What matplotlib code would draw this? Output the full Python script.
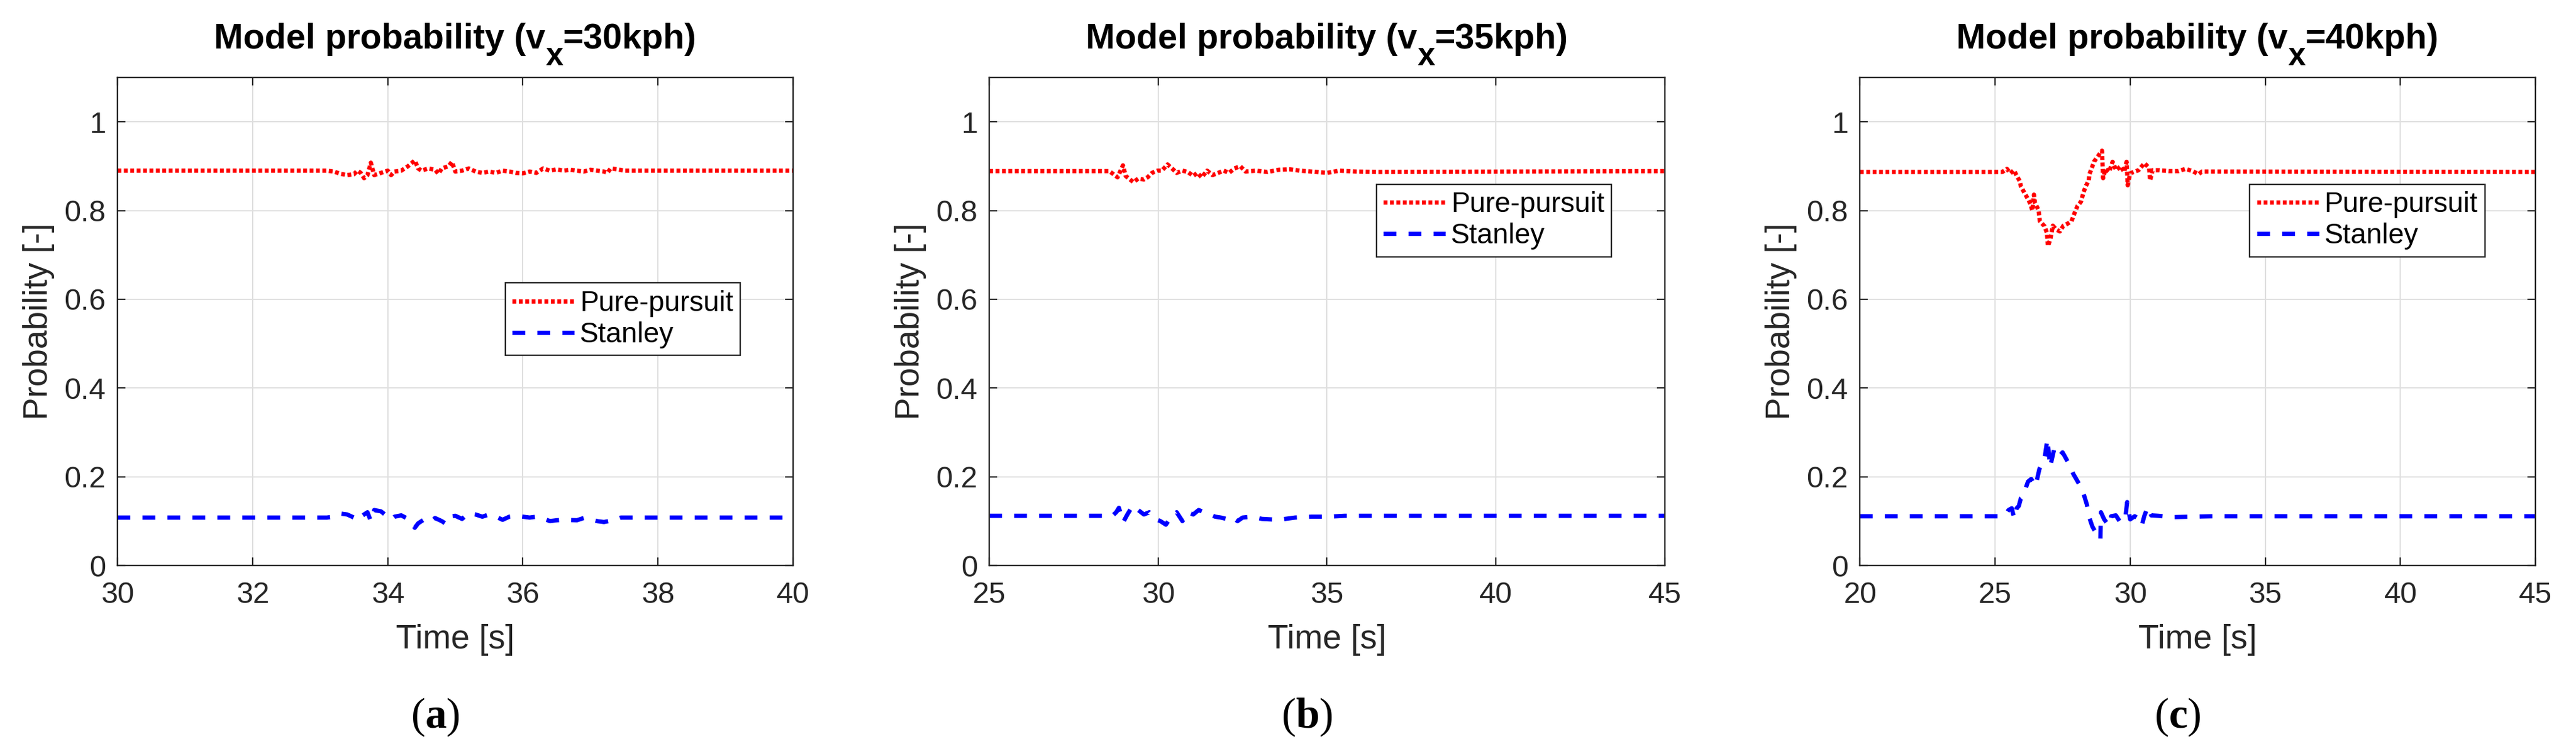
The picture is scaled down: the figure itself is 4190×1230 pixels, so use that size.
import matplotlib
matplotlib.use("Agg")
import matplotlib.pyplot as plt
from matplotlib.ticker import FormatStrFormatter
from matplotlib.transforms import IdentityTransform

plt.rcParams['font.family'] = ['Liberation Sans', 'DejaVu Sans']
plt.rcParams['mathtext.fontset'] = 'custom'
plt.rcParams['mathtext.bf'] = 'Liberation Serif:bold'
plt.rcParams['mathtext.rm'] = 'Liberation Serif'

# ---- data ----
speeds = ["30", "35", "40"]
captions = ["a", "b", "c"]
xlims = [(30, 40), (25, 45), (20, 45)]
xtick_steps = [2, 5, 5]

# (a) 30 kph
t_pp_a = [30, 33.1, 33.2, 33.3, 33.4, 33.5, 33.55, 33.6, 33.65, 33.7, 33.75, 33.8, 33.9, 34.0, 34.05,
          34.1, 34.2, 34.3, 34.4, 34.45, 34.5, 34.6, 34.7, 34.75, 34.8, 34.9, 34.95, 35.0, 35.1, 35.2,
          35.3, 35.4, 35.5, 35.6, 35.7, 35.8, 35.9, 36.0, 36.1, 36.2, 36.3, 36.4, 36.5, 36.6, 36.7,
          36.8, 36.9, 37.0, 37.1, 37.2, 37.25, 37.3, 37.4, 37.5, 40]
pp_a = [0.89, 0.89, 0.888, 0.883, 0.88, 0.882, 0.89, 0.885, 0.873, 0.88, 0.908, 0.88, 0.885, 0.89, 0.88,
        0.888, 0.89, 0.9, 0.913, 0.895, 0.89, 0.895, 0.892, 0.883, 0.895, 0.9, 0.91, 0.888, 0.89, 0.895,
        0.888, 0.885, 0.888, 0.885, 0.89, 0.888, 0.885, 0.884, 0.888, 0.885, 0.895, 0.89, 0.893, 0.89, 0.892,
        0.89, 0.888, 0.892, 0.89, 0.888, 0.885, 0.895, 0.893, 0.89, 0.89]
t_st_a = [30, 33.1, 33.2, 33.3, 33.4, 33.5, 33.55, 33.6, 33.7, 33.75, 33.8, 33.9, 34.0, 34.05, 34.1, 34.2,
          34.3, 34.4, 34.45, 34.55, 34.65, 34.7, 34.8, 34.85, 34.9, 35.0, 35.1, 35.2, 35.3, 35.4, 35.5,
          35.6, 35.7, 35.8, 35.9, 36.0, 36.1, 36.2, 36.3, 36.4, 36.5, 36.6, 36.8, 36.9, 37.0, 37.1,
          37.2, 37.3, 37.4, 37.45, 40]
st_a = [0.108, 0.108, 0.11, 0.117, 0.115, 0.108, 0.102, 0.11, 0.12, 0.1, 0.125, 0.122, 0.11, 0.104, 0.11, 0.113,
        0.105, 0.085, 0.095, 0.105, 0.1, 0.107, 0.1, 0.095, 0.11, 0.112, 0.105, 0.118, 0.115, 0.11, 0.115,
        0.11, 0.103, 0.11, 0.112, 0.11, 0.108, 0.11, 0.106, 0.1, 0.102, 0.103, 0.102, 0.107, 0.104, 0.1,
        0.098, 0.101, 0.105, 0.108, 0.108]

# (b) 35 kph
t_pp_b = [25, 28.55, 28.68, 28.8, 28.96, 29.04, 29.17, 29.27, 29.41, 29.58, 29.69, 29.82, 29.98, 30.11,
          30.28, 30.44, 30.55, 30.72, 30.88, 31.04, 31.16, 31.29, 31.45, 31.61, 31.78, 31.94, 32.1, 32.26,
          32.43, 32.59, 32.9, 33.24, 33.57, 33.9, 34.2, 34.7, 35.0, 35.36, 35.85, 36.5, 45]
pp_b = [0.889, 0.889, 0.882, 0.875, 0.902, 0.878, 0.87, 0.864, 0.872, 0.87, 0.875, 0.885, 0.89, 0.89,
        0.904, 0.893, 0.885, 0.89, 0.887, 0.878, 0.885, 0.875, 0.89, 0.88, 0.885, 0.89, 0.885, 0.895,
        0.9, 0.888, 0.89, 0.887, 0.892, 0.893, 0.89, 0.887, 0.885, 0.89, 0.888, 0.887, 0.889]
t_st_b = [25, 28.65, 28.76, 28.84, 28.97, 29.09, 29.25, 29.41, 29.58, 29.74, 29.9, 30.07, 30.23, 30.39,
          30.55, 30.72, 30.88, 31.04, 31.2, 31.37, 31.53, 31.69, 31.86, 32.02, 32.18, 32.35, 32.5, 32.75,
          33.08, 33.57, 34.05, 34.54, 35.03, 35.52, 45]
st_b = [0.112, 0.112, 0.12, 0.13, 0.098, 0.115, 0.135, 0.125, 0.115, 0.12, 0.105, 0.1, 0.092, 0.11,
        0.12, 0.1, 0.12, 0.115, 0.125, 0.12, 0.115, 0.11, 0.108, 0.105, 0.11, 0.1, 0.108, 0.11,
        0.105, 0.103, 0.108, 0.11, 0.11, 0.112, 0.112]

# (c) 40 kph
t_pp_c = [20, 25.27, 25.44, 25.57, 25.7, 25.79, 25.92, 25.96, 26.09, 26.22, 26.31, 26.38, 26.44, 26.48,
          26.61, 26.66, 26.83, 26.92, 26.96, 27.05, 27.14, 27.27, 27.4, 27.53, 27.7, 27.83, 27.96, 28.05,
          28.18, 28.27, 28.35, 28.47, 28.49, 28.57, 28.66, 28.79, 28.96, 29.0, 29.09, 29.22, 29.35, 29.48,
          29.65, 29.78, 29.87, 29.91, 30.0, 30.13, 30.31, 30.53, 30.7, 30.74, 30.83, 31.09, 31.44, 31.79,
          32.05, 32.31, 32.53, 32.66, 45]
pp_c = [0.887, 0.887, 0.894, 0.884, 0.891, 0.88, 0.866, 0.854, 0.84, 0.826, 0.815, 0.8, 0.836, 0.817,
        0.801, 0.776, 0.765, 0.75, 0.72, 0.736, 0.766, 0.757, 0.753, 0.766, 0.771, 0.776, 0.797, 0.81,
        0.82, 0.84, 0.854, 0.868, 0.882, 0.894, 0.91, 0.921, 0.935, 0.873, 0.894, 0.887, 0.91, 0.891,
        0.9, 0.887, 0.91, 0.857, 0.884, 0.887, 0.891, 0.907, 0.896, 0.868, 0.891, 0.891, 0.889, 0.889,
        0.894, 0.889, 0.882, 0.888, 0.887]
t_st_c = [20, 25.1, 25.37, 25.5, 25.62, 25.71, 25.8, 25.88, 25.96, 26.05, 26.14, 26.22, 26.34, 26.5,
          26.64, 26.84, 26.94, 27.04, 27.18, 27.34, 27.5, 27.7, 27.9, 28.1, 28.2, 28.3, 28.4, 28.5, 28.6,
          28.73, 28.9, 28.92, 29.04, 29.21, 29.3, 29.47, 29.64, 29.82, 29.89, 30.0, 30.17, 30.3, 30.43,
          30.52, 30.65, 30.78, 31.04, 31.56, 32.25, 33.0, 45]
st_c = [0.111, 0.111, 0.113, 0.125, 0.129, 0.106, 0.129, 0.134, 0.152, 0.157, 0.175, 0.189, 0.195, 0.179,
        0.217, 0.244, 0.285, 0.222, 0.26, 0.244, 0.255, 0.233, 0.206, 0.185, 0.175, 0.157, 0.137, 0.106, 0.088,
        0.074, 0.058, 0.12, 0.104, 0.09, 0.111, 0.113, 0.097, 0.106, 0.143, 0.104, 0.111, 0.106, 0.09,
        0.111, 0.132, 0.113, 0.112, 0.109, 0.11, 0.111, 0.111]

pp_series = [(t_pp_a, pp_a), (t_pp_b, pp_b), (t_pp_c, pp_c)]
st_series = [(t_st_a, st_a), (t_st_b, st_b), (t_st_c, st_c)]

# ---- layout ----
dark = '#262626'
W, H = 4190, 1230
lefts = [0.0456, 0.3840, 0.7220]
ax_w = 0.2623
legend_anchor = [(0.922, 0.579), (0.921, 0.781), (0.925, 0.781)]

fig = plt.figure(figsize=(W / 100, H / 100), dpi=100)
renderer = fig.canvas.get_renderer()


def draw_title(cx, y, speed):
    # MATLAB style title, subscript x sits fully below the baseline
    pieces = [("Model probability (v", 41, 0), ("x", 37, -27), ("=" + speed + "kph)", 41, 0)]
    objs, widths = [], []
    for s, fs, dy in pieces:
        tx = fig.text(0, 0, s, fontsize=fs, fontweight='bold', color='black',
                      transform=IdentityTransform(), ha='left', va='baseline')
        widths.append(tx.get_window_extent(renderer).width)
        objs.append(tx)
    x = cx - sum(widths) / 2
    for tx, w, p in zip(objs, widths, pieces):
        tx.set_position((x, y + p[2]))
        x += w


for i in range(3):
    ax = fig.add_axes([lefts[i], 0.252, ax_w, 0.6455])
    t, v = pp_series[i]
    ax.plot(t, v, color='red', lw=5.0, linestyle=(0, (0.9, 0.6)), dash_capstyle='butt',
            label='Pure-pursuit')
    t, v = st_series[i]
    ax.plot(t, v, color='blue', lw=5.0, linestyle=(0, (3.0, 2.85)), dash_capstyle='butt',
            label='Stanley')

    x0, x1 = xlims[i]
    ax.set_xlim(x0, x1)
    ax.set_ylim(0, 1.1)
    ax.set_xticks(list(range(x0, x1 + 1, xtick_steps[i])))
    ax.set_yticks([0, 0.2, 0.4, 0.6, 0.8, 1])
    ax.yaxis.set_major_formatter(FormatStrFormatter('%g'))

    ax.grid(True, color='#dfdfdf', lw=1.4)
    ax.set_axisbelow(True)
    for s in ax.spines.values():
        s.set_color(dark)
        s.set_linewidth(1.7)
    ax.tick_params(direction='in', length=9.5, width=1.6, top=True, right=True,
                   colors=dark, labelsize=35)
    ax.tick_params(axis='x', pad=19)
    ax.tick_params(axis='y', pad=13.7)

    ax.set_xlabel('Time [s]', fontsize=39.5, color=dark)
    ax.set_ylabel('Probability [-]', fontsize=39.5, color=dark)
    ax.xaxis.set_label_coords(0.5, -0.12)
    ax.yaxis.set_label_coords(-0.093, 0.5)

    draw_title((lefts[i] + ax_w / 2) * W, H - 126 + 47, speeds[i])

    leg = ax.legend(loc='upper right', bbox_to_anchor=legend_anchor[i], fontsize=33,
                    handlelength=2.2, handletextpad=0.2, borderpad=0.25, labelspacing=0.15,
                    fancybox=False, framealpha=1, borderaxespad=0)
    leg.get_frame().set_edgecolor(dark)
    leg.get_frame().set_linewidth(1.7)

    cx = lefts[i] + ax_w / 2 - 33 / W
    fig.text(cx, 0.0374, r'($\mathbf{' + captions[i] + '}$)', fontsize=50,
             family='Liberation Serif', ha='center', va='baseline')

fig.savefig('out.png', dpi=100)
